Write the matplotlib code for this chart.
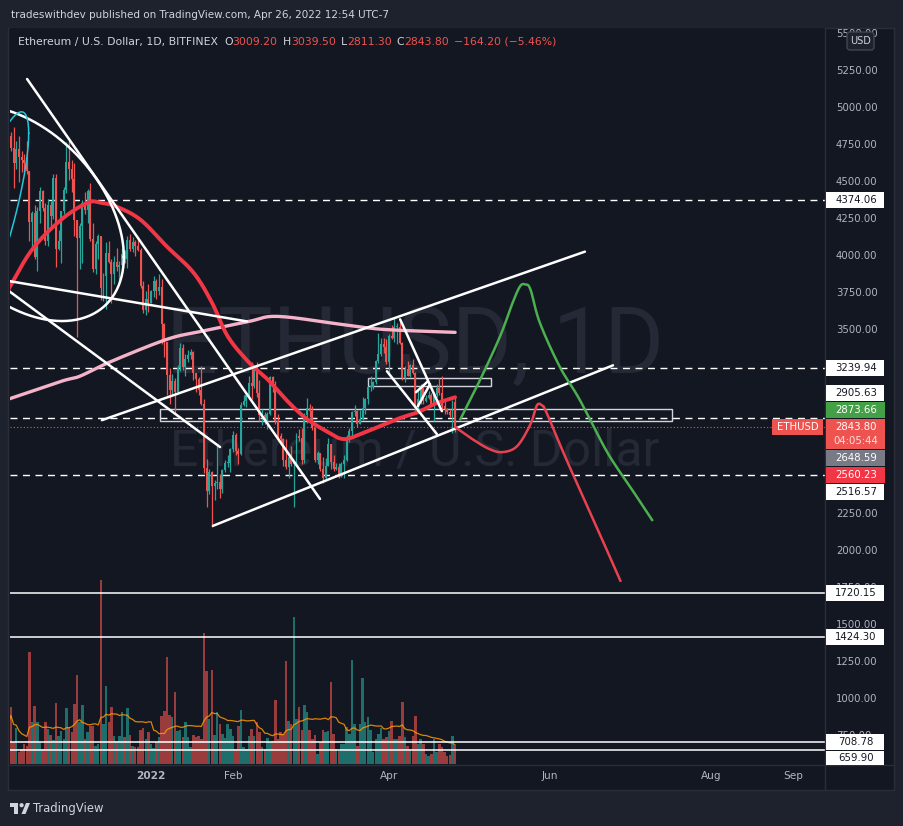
import numpy as np
import pandas as pd
import matplotlib
matplotlib.use("Agg")
import matplotlib.pyplot as plt
from matplotlib.patches import Rectangle, Circle, Polygon, FancyBboxPatch

W, H = 904, 826

# ---- daily ETHUSD candles (first bar = 2021-11-08) ----
start = pd.Timestamp("2021-11-08")
first_open = 4610.0
last_open = 3009.20

close = [
    4808, 4730, 4630, 4722, 4667, 4650, 4625, 4575, 4230, 4290,
    3995, 4305, 4440, 4320, 4100, 4345, 4270, 4525, 4045, 4100,
    4300, 4445, 4635, 4590, 4520, 4240, 4120, 4200, 4360, 4310,
    4440, 4115, 3910, 4080, 4135, 3785, 3860, 4020, 3960, 3880,
    3960, 3925, 3940, 4015, 3980, 4110, 4045, 4095, 4065, 4040,
    3795, 3630, 3710, 3680, 3765, 3830, 3760, 3790, 3540, 3415,
    3195, 3090, 3155, 3080, 3240, 3375, 3250, 3305, 3330, 3350,
    3210, 3165, 3095, 3000, 2565, 2410, 2540, 2440, 2460, 2470,
    2420, 2550, 2600, 2600, 2690, 2790, 2680, 2660, 2990, 3020,
    3060, 3140, 3120, 3240, 3075, 2920, 2920, 2880, 2930, 3180,
    3130, 2885, 2780, 2760, 2620, 2570, 2640, 2590, 2600, 2780,
    2770, 2620, 2920, 2970, 2950, 2835, 2620, 2665, 2555, 2495,
    2575, 2725, 2605, 2555, 2570, 2515, 2590, 2620, 2770, 2815,
    2945, 2950, 2860, 2895, 2970, 3030, 3110, 3110, 3145, 3290,
    3335, 3400, 3385, 3280, 3455, 3445, 3520, 3520, 3410, 3170,
    3235, 3190, 3260, 3210, 2980, 3030, 3120, 3020, 3040, 3060,
    2990, 3060, 3105, 3075, 2985, 2965, 2940, 2920, 3008, 2843.8,
]
high = [
    4825, 4837, 4868, 4775, 4810, 4710, 4690, 4775, 4575, 4300,
    4345, 4330, 4465, 4445, 4360, 4385, 4370, 4555, 4550, 4175,
    4300, 4465, 4770, 4780, 4650, 4625, 4240, 4225, 4380, 4430,
    4450, 4490, 4220, 4100, 4150, 4125, 3885, 4095, 4100, 3975,
    4000, 4050, 3965, 4050, 4040, 4135, 4145, 4125, 4110, 4125,
    4055, 3830, 3765, 3810, 3770, 3860, 3840, 3880, 3845, 3545,
    3420, 3240, 3200, 3175, 3260, 3410, 3405, 3335, 3365, 3370,
    3355, 3210, 3180, 3255, 3030, 2625, 2560, 2545, 2485, 2720,
    2525, 2560, 2620, 2655, 2700, 2815, 2800, 2700, 3010, 3055,
    3065, 3185, 3280, 3245, 3280, 3160, 2965, 2945, 2940, 3190,
    3190, 3155, 2930, 2800, 2765, 2760, 2645, 2715, 2610, 2800,
    2830, 2835, 2935, 3040, 3000, 2985, 2840, 2680, 2665, 2640,
    2635, 2770, 2725, 2655, 2600, 2595, 2605, 2650, 2785, 2835,
    2950, 2990, 2955, 2960, 3045, 3040, 3120, 3190, 3155, 3295,
    3480, 3445, 3445, 3440, 3470, 3530, 3580, 3545, 3555, 3415,
    3255, 3290, 3270, 3300, 3215, 3095, 3130, 3135, 3060, 3085,
    3075, 3070, 3130, 3175, 3190, 3015, 2970, 2965, 3025, 3039.5,
]
low = [
    4600, 4710, 4460, 4585, 4500, 4570, 4570, 4550, 4100, 4065,
    3975, 3900, 4220, 4305, 4070, 4065, 4190, 4250, 3925, 4040,
    3950, 4280, 4425, 4510, 4430, 4135, 3450, 3910, 3950, 4280,
    4220, 4100, 3890, 3880, 3980, 3700, 3695, 3640, 3950, 3680,
    3810, 3900, 3800, 3920, 3950, 3920, 4030, 4025, 4000, 4030,
    3780, 3615, 3600, 3620, 3680, 3720, 3710, 3735, 3400, 3315,
    3060, 3000, 3065, 2930, 3070, 3220, 3230, 3185, 3280, 3300,
    3160, 3080, 3060, 2990, 2530, 2300, 2390, 2165, 2350, 2420,
    2360, 2395, 2535, 2570, 2540, 2675, 2650, 2590, 2650, 2985,
    2980, 3030, 3030, 3105, 3045, 2880, 2855, 2860, 2830, 2925,
    3080, 2860, 2750, 2720, 2580, 2555, 2500, 2580, 2300, 2580,
    2750, 2590, 2600, 2870, 2910, 2820, 2605, 2590, 2545, 2460,
    2480, 2575, 2555, 2545, 2550, 2500, 2505, 2500, 2610, 2740,
    2770, 2915, 2845, 2860, 2890, 2930, 2995, 3085, 3100, 3130,
    3275, 3325, 3340, 3270, 3210, 3435, 3420, 3400, 3405, 3160,
    3145, 3185, 3180, 3200, 2950, 2960, 2995, 3000, 3010, 3030,
    2985, 2885, 3045, 3060, 2960, 2930, 2930, 2910, 2800, 2811.3,
]
volume = [
    40, 57, 22, 36, 12, 15, 20, 18, 112, 42,
    58, 42, 22, 15, 42, 35, 29, 24, 61, 28,
    33, 25, 56, 37, 32, 60, 89, 42, 59, 25,
    32, 38, 38, 18, 20, 184, 40, 78, 42, 57,
    28, 23, 28, 52, 27, 56, 29, 18, 17, 17,
    34, 36, 25, 32, 20, 16, 22, 27, 48, 53,
    107, 49, 47, 72, 33, 34, 27, 42, 27, 17,
    29, 27, 28, 25, 131, 93, 45, 94, 29, 52,
    40, 30, 26, 40, 35, 28, 15, 38, 54, 17,
    15, 28, 35, 28, 42, 32, 17, 15, 26, 22,
    23, 64, 25, 32, 30, 103, 43, 40, 147, 45,
    57, 34, 59, 52, 34, 25, 29, 10, 22, 34,
    32, 33, 82, 30, 15, 13, 20, 20, 37, 30,
    104, 40, 18, 40, 86, 42, 47, 34, 12, 25,
    30, 36, 25, 27, 33, 43, 25, 25, 28, 62,
    27, 18, 15, 28, 48, 20, 25, 20, 10, 8,
    10, 25, 12, 20, 17, 12, 8, 9, 28, 18,
]

# moving averages as they appear on the chart (bar index, price)
ma50_idx = [0, 9, 20, 30, 35, 41, 50, 60, 70, 77, 83, 91, 98, 106, 113, 121, 127, 135, 147, 155, 161, 169]
ma50_val = [3772, 4042, 4244, 4359, 4359, 4332, 4244, 4062, 3887, 3684, 3455, 3279, 3165, 3009,
            2895, 2807, 2760, 2807, 2895, 2942, 2996, 3043]
ma200_idx = [0, 20, 27, 39, 60, 73, 91, 102, 126, 142, 169]
ma200_val = [3030, 3151, 3185, 3286, 3435, 3489, 3556, 3590, 3536, 3502, 3482]

# projected paths drawn by the author
bull_idx = [171, 178, 186, 190.5, 193.5, 195.5, 197.5, 201, 208.5, 216, 226.5, 235, 243.5]
bull_val = [2895, 3144, 3455, 3671, 3792, 3806, 3772, 3549, 3252, 3030, 2672, 2443, 2213]
bear_idx = [169, 175.5, 182, 187, 192.5, 197.5, 200, 202, 203.5, 211, 220, 231.5]
bear_val = [2841, 2760, 2692, 2672, 2713, 2861, 2990, 2985, 2942, 2625, 2267, 1802]

# trend lines ((bar, price), (bar, price))
trend_lines = [
    ((7.1, 5196), (117.9, 2355)),
    ((0.0, 3830), (90.3, 3556)),
    ((0.0, 3765), (80.1, 2706)),
    ((35.4, 2888), (218.1, 4028)),
    ((77.4, 2173), (228.7, 3259)),
    ((148.2, 3570), (164.0, 2949)),
    ((143.2, 3219), (162.1, 2794)),
    ((154.2, 3077), (158.7, 3151)),
    ((154.9, 2982), (159.5, 3131)),
]
# zones: (bar from, bar to, price low, price high)
zones = [(57.4, 251.0, 2880, 2962), (136.0, 182.6, 3117, 3171)]
# ellipses: centre (bar, price), two conjugate half-axes
big_ellipse = (4.4, 4287, 39.3, -295, 0.0, -666)
cyan_ellipse = (-6.9, 4197, 14.6, 632, 0.0, -452)

dashed_levels = [4374.06, 3239.94, 2905.63, 2516.57]
solid_levels = [1720.15, 1424.30, 708.78, 659.90]
last_price = 2843.80
countdown = "04:05:44"
ind_levels = [2873.66, 2648.59, 2560.23]

price_ticks = [5500, 5250, 5000, 4750, 4500, 4250, 4000, 3750, 3500,
               2250, 2000, 1750, 1500, 1250, 1000, 750]
tick_dates = ["2022-01-01", "2022-02-01", "2022-04-01", "2022-06-01", "2022-08-01", "2022-09-01"]
tick_labels = ["2022", "Feb", "Apr", "Jun", "Aug", "Sep"]

# ---- colours ----
BG_OUT = "#1e222d"
BG = "#131722"
GRID = "#2a2e39"
UP = "#26a69a"
DOWN = "#ef5350"
TXT = "#d1d4dc"
AX_TXT = "#b2b5be"


def smooth(xs, ys, steps=14):
    # catmull-rom through the read points
    p = np.column_stack([xs, ys]).astype(float)
    p = np.vstack([2 * p[0] - p[1], p, 2 * p[-1] - p[-2]])
    t = np.linspace(0, 1, steps, endpoint=False)[:, None]
    out = []
    for k in range(1, len(p) - 2):
        p0, p1, p2, p3 = p[k - 1], p[k], p[k + 1], p[k + 2]
        seg = 0.5 * (2 * p1 + (-p0 + p2) * t + (2 * p0 - 5 * p1 + 4 * p2 - p3) * t ** 2
                     + (-p0 + 3 * p1 - 3 * p2 + p3) * t ** 3)
        out.append(seg)
    out.append(p[-2][None])
    r = np.vstack(out)
    return r[:, 0], r[:, 1]


def ellipse_pts(e, n=240):
    cx, cy, ux, uy, vx, vy = e
    t = np.linspace(0, 2 * np.pi, n)
    return cx + ux * np.cos(t) + vx * np.sin(t), cy + uy * np.cos(t) + vy * np.sin(t)


close = np.array(close, dtype=float)
high = np.array(high, dtype=float)
low = np.array(low, dtype=float)
opens = np.concatenate([[first_open], close[:-1]])
opens[-1] = last_open
idx = np.arange(len(close))
up = close >= opens
colors = np.where(up, UP, DOWN)

fig = plt.figure(figsize=(W / 100, H / 100), dpi=100, facecolor=BG_OUT)

# pixel-space helper axes (behind and in front)
ax_back = fig.add_axes([0, 0, 1, 1], zorder=-2)
ax_back.set_xlim(0, W)
ax_back.set_ylim(H, 0)
ax_back.axis("off")
ax_back.add_patch(Rectangle((8, 28), 886, 762, fc=BG, ec=GRID, lw=1))

pane = [10 / W, (H - 764) / H, 815 / W, 736 / H]
ax_vol = fig.add_axes(pane, zorder=0)
ax = fig.add_axes(pane, zorder=1)
ax_over = fig.add_axes([0, 0, 1, 1], zorder=5)
ax_over.set_xlim(0, W)
ax_over.set_ylim(H, 0)
ax_over.axis("off")

xlim = (0.64, 308.9)
ylim = (562, 5541)

# ---- volume ----
ax_vol.set_facecolor(BG)
ax_vol.bar(idx, volume, width=0.95, color=colors, alpha=0.62, linewidth=0)
vol_ma = pd.Series(volume, dtype=float).rolling(20, min_periods=1).mean()
ax_vol.plot(idx, vol_ma, color="#ff9800", lw=0.9, alpha=0.85)
ax_vol.set_xlim(*xlim)
ax_vol.set_ylim(0, 736)
ax_vol.set_xticks([])
ax_vol.set_yticks([])
for s in ax_vol.spines.values():
    s.set_visible(False)
ax_vol.text(0.497, 0.565, "ETHUSD, 1D", transform=ax_vol.transAxes, ha="center", va="center",
            fontsize=66, family="Roboto", color="#252935")
ax_vol.text(0.497, 0.424, "Ethereum / U.S. Dollar", transform=ax_vol.transAxes, ha="center",
            va="center", fontsize=36, family="Roboto", color="#252935")

# ---- price pane ----
ax.set_facecolor("none")
ax.set_xlim(*xlim)
ax.set_ylim(*ylim)
for s in ax.spines.values():
    s.set_visible(False)
ax.set_yticks([])

for lv in dashed_levels:
    ax.axhline(lv, color="white", lw=1, ls=(0, (5, 4)), zorder=2)
for lv in solid_levels:
    ax.axhline(lv, color="white", lw=1.1, zorder=2)
ax.axhline(last_price, color=DOWN, lw=0.8, ls=(0, (1, 2)), zorder=2)

for x0, x1, p0, p1 in zones:
    ax.add_patch(Rectangle((x0, p0), x1 - x0, p1 - p0, fill=False, ec="#d1d4dc", lw=1, zorder=3))

# candles
ax.vlines(idx, low, high, colors=colors, lw=0.9, zorder=4)
body = np.maximum(np.abs(close - opens), 8)
ax.bar(idx, body, bottom=np.minimum(opens, close), width=0.74, color=colors, linewidth=0, zorder=5)

mx, my = smooth(ma200_idx, ma200_val)
ax.plot(mx, my, color="#f5b3c9", lw=2.4, zorder=6, solid_capstyle="round")
mx, my = smooth(ma50_idx, ma50_val)
ax.plot(mx, my, color="#f23645", lw=2.8, zorder=6, solid_capstyle="round")

for (a0, b0), (a1, b1) in trend_lines:
    ax.plot([a0, a1], [b0, b1], color="white", lw=1.8, zorder=7, solid_capstyle="round")
ex, ey = ellipse_pts(big_ellipse)
ax.plot(ex, ey, color="white", lw=1.8, zorder=7)
ex, ey = ellipse_pts(cyan_ellipse)
ax.plot(ex, ey, color="#26c6da", lw=1.1, zorder=7)

gx, gy = smooth(bull_idx, bull_val)
ax.plot(gx, gy, color="#4caf50", lw=1.8, zorder=7)
rx, ry = smooth(bear_idx, bear_val)
ax.plot(rx, ry, color="#e84150", lw=1.8, zorder=7)

# time axis
tick_pos = [(pd.Timestamp(d) - start).days for d in tick_dates]
ax.set_xticks(tick_pos)
ax.set_xticklabels(tick_labels)
ax.tick_params(axis="x", length=0, pad=5, labelsize=7.6, labelcolor=AX_TXT)
ax.get_xticklabels()[0].set_fontweight("bold")

# frame separators
ax_over.plot([825.5, 825.5], [28, 790], color=GRID, lw=1)
ax_over.plot([8, 894], [764.5, 764.5], color=GRID, lw=1)


def py(p):
    # price -> pixel row in the overlay
    return H - ax.transData.transform((0, p))[1]


# price scale labels
for v in price_ticks:
    ax_over.text(836, py(v), f"{v:.2f}", ha="left", va="center", fontsize=7.3, color=AX_TXT)


def tag(p, txt, fc, tc, dy=0.0, x0=826, w=58, h=16):
    yc = py(p) + dy
    ax_over.add_patch(Rectangle((x0, yc - h / 2), w, h, fc=fc, ec="none", zorder=6))
    ax_over.text(x0 + w / 2 + 1, yc, txt, ha="center", va="center", fontsize=7.3, color=tc, zorder=7)


tag(dashed_levels[0], f"{dashed_levels[0]:.2f}", "white", BG)
tag(dashed_levels[1], f"{dashed_levels[1]:.2f}", "white", BG)
tag(dashed_levels[2], f"{dashed_levels[2]:.2f}", "white", BG, dy=-25)
tag(ind_levels[0], f"{ind_levels[0]:.2f}", "#43a047", "white", dy=-12.5, w=59)
tag(ind_levels[1], f"{ind_levels[1]:.2f}", "#787b86", "white", dy=2.5, w=59)
tag(ind_levels[2], f"{ind_levels[2]:.2f}", "#f23645", "white", dy=6.5, w=59)
tag(dashed_levels[3], f"{dashed_levels[3]:.2f}", "white", BG, dy=17)
for lv in solid_levels[:3]:
    tag(lv, f"{lv:.2f}", "white", BG)
tag(solid_levels[3], f"{solid_levels[3]:.2f}", "white", BG, dy=8.5, h=14)

# last price tag with countdown
yl = py(last_price)
ax_over.add_patch(Rectangle((826, yl - 8), 59, 30, fc=DOWN, ec="none", zorder=6))
ax_over.text(856, yl, f"{last_price:.2f}", ha="center", va="center", fontsize=7.3, color="white", zorder=7)
ax_over.text(856, yl + 14, countdown, ha="center", va="center", fontsize=7.3, color="#fde0e0", zorder=7)
ax_over.add_patch(Rectangle((772, yl - 8), 51, 16, fc=DOWN, ec="none", zorder=6))
ax_over.text(797.5, yl, "ETHUSD", ha="center", va="center", fontsize=7.3, color="white", zorder=7)

# currency button
ax_over.add_patch(FancyBboxPatch((847, 32), 27, 18, boxstyle="round,pad=0,rounding_size=3",
                                 fc=BG_OUT, ec="#434651", lw=1, zorder=8))
ax_over.text(860.5, 41.5, "USD", ha="center", va="center", fontsize=7, color=TXT, zorder=9)

# header + legend
fig.text(11 / W, 1 - 15 / H, "tradeswithdev published on TradingView.com, Apr 26, 2022 12:54 UTC-7",
         ha="left", va="center", fontsize=7.5, color=TXT)

renderer = fig.canvas.get_renderer()
legend_parts = [
    ("Ethereum / U.S. Dollar, 1D, BITFINEX", TXT, 6),
    ("O", TXT, 0), (f"{opens[-1]:.2f}", DOWN, 5),
    ("H", TXT, 0), (f"{high[-1]:.2f}", DOWN, 5),
    ("L", TXT, 0), (f"{low[-1]:.2f}", DOWN, 5),
    ("C", TXT, 0), (f"{close[-1]:.2f}", DOWN, 5),
    (f"\u2212{abs(close[-1] - close[-2]):.2f} (\u2212{abs(close[-1] / close[-2] - 1) * 100:.2f}%)", DOWN, 0),
]
xpos = 18
for txt, col, gap in legend_parts:
    t = ax_over.text(xpos, 42, txt, ha="left", va="center", fontsize=7.8, color=col, zorder=9)
    bb = t.get_window_extent(renderer=renderer)
    xpos = bb.x1 + gap

# TradingView logo
ax_over.add_patch(Rectangle((10, 803), 8.5, 3.6, fc=TXT, ec="none"))
ax_over.add_patch(Rectangle((14.5, 803), 4, 11, fc=TXT, ec="none"))
ax_over.add_patch(Circle((21.6, 805.2), 2.1, fc=TXT, ec="none"))
ax_over.add_patch(Polygon([(21.5, 814), (26, 803), (30, 803), (25.5, 814)], closed=True, fc=TXT, ec="none"))
ax_over.text(33, 808.5, "TradingView", ha="left", va="center", fontsize=8.4, color=TXT)

fig.savefig("out.png", dpi=100, facecolor=BG_OUT)
